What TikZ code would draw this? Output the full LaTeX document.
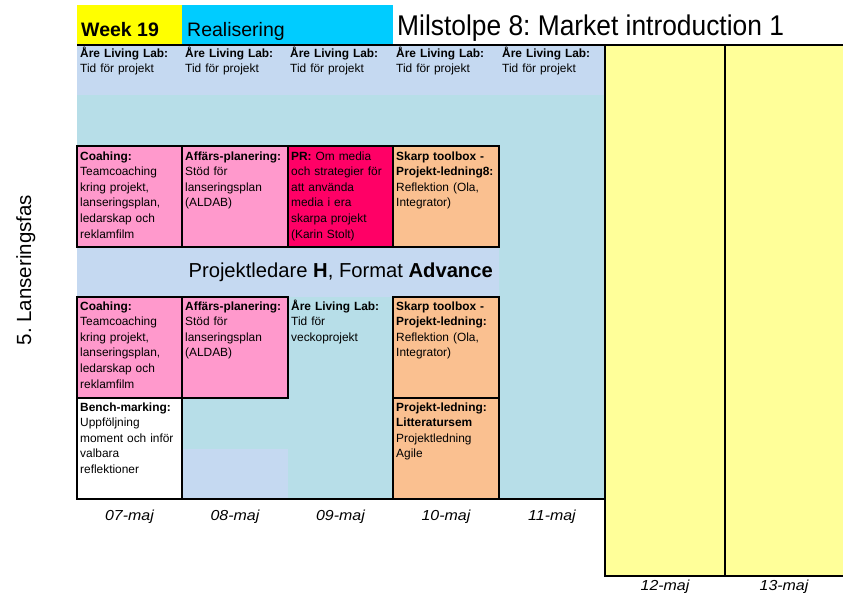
\documentclass[tikz,border=0pt]{standalone}
\usepackage{fontspec}
\setmainfont{Liberation Sans}
\frenchspacing
\definecolor{wkyellow}{HTML}{FFFF00}
\definecolor{wkcyan}{HTML}{00CCFF}
\definecolor{ltblue}{HTML}{C5D9F1}
\definecolor{teal2}{HTML}{B7DEE8}
\definecolor{pinkc}{HTML}{FF99CC}
\definecolor{prc}{HTML}{FF0066}
\definecolor{orangec}{HTML}{FAC090}
\definecolor{ltyellow}{HTML}{FFFF99}
\newcommand{\dlab}[1]{\scalebox{1.1}[1]{#1}}
\begin{document}
\begin{tikzpicture}[x=1pt,y=-1pt,
  area/.style={anchor=north west, inner sep=0pt, outer sep=0pt, draw=none},
  box/.style={anchor=north west, inner sep=0pt, outer sep=0pt, draw=black, line width=2.4pt},
  txt/.style={anchor=base west, inner sep=0pt, text width=102pt, align=left, font=\fontsize{11.9}{15.6}\selectfont},
  datel/.style={anchor=base, inner sep=0pt, font=\fontsize{14.5}{17}\selectfont\itshape},
  rule/.style={line width=2.4pt}]
\useasboundingbox (0,0) rectangle (843,600);
% header
\node[area, fill=wkyellow, minimum width=105pt, minimum height=40pt] (wkbox) at (77,5) {};
\node[area, fill=wkcyan, minimum width=211pt, minimum height=40pt] (rebox) at (182,5) {};
\node[anchor=base west, inner sep=0pt, font=\fontsize{19.5}{22}\selectfont\bfseries] (wk) at (81,36) {Week 19};
\node[anchor=base west, inner sep=0pt, font=\fontsize{19.5}{22}\selectfont] (re) at (187,36) {Realisering};
\node[anchor=base west, inner sep=0pt] (ms) at (397,35) {\scalebox{0.925}[1]{\fontsize{28.5}{30}\selectfont Milstolpe 8: Market introduction 1}};
% backgrounds
\node[area, fill=ltblue, minimum width=528pt, minimum height=50pt] (arerow) at (77,45) {};
\node[area, fill=teal2, minimum width=528pt, minimum height=404pt] (main) at (77,95) {};
\node[area, fill=ltblue, minimum width=422pt, minimum height=50pt] (band) at (77,247) {};
\node[area, fill=ltblue, minimum width=106pt, minimum height=50pt] (patch) at (182,449) {};
% yellow days
\node[box, fill=ltyellow, minimum width=120pt, minimum height=531pt] (day12) at (605,45) {};
\node[box, fill=ltyellow, minimum width=125pt, minimum height=531pt] (day13) at (725,45) {};
% rules
\draw[rule] (77,45) -- (843,45);
\draw[rule] (77,499) -- (605,499);
% Are row
\foreach \x/\n in {80/a1,185/a2,290/a3,396/a4,502/a5}
  \node[txt] (\n) at (\x,57) {\textbf{Åre Living Lab:}\\Tid för projekt};
% row 1
\node[box, fill=pinkc, minimum width=105pt, minimum height=101pt] (r1c1) at (77,146) {};
\node[box, fill=pinkc, minimum width=106pt, minimum height=101pt] (r1c2) at (182,146) {};
\node[box, fill=prc, minimum width=105pt, minimum height=101pt] (r1c3) at (288,146) {};
\node[box, fill=orangec, minimum width=106pt, minimum height=101pt] (r1c4) at (393,146) {};
\node[txt] (t11) at (80,160) {\textbf{Coahing:}\\Teamcoaching\\kring projekt,\\lanseringsplan,\\ledarskap och\\reklamfilm};
\node[txt] (t12) at (185,160) {\textbf{Affärs-planering:}\\Stöd för\\lanseringsplan\\(ALDAB)};
\node[txt] (t13) at (291,160) {\textbf{PR:} Om media\\och strategier för\\att använda\\media i era\\skarpa projekt\\(Karin Stolt)};
\node[txt] (t14) at (396,160) {\textbf{Skarp toolbox -}\\\textbf{Projekt-ledning8:}\\Reflektion (Ola,\\Integrator)};
% band
\node[anchor=base east, inner sep=0pt, font=\fontsize{20.2}{24}\selectfont] (pl) at (493,277) {Projektledare \textbf{H}, Format \textbf{Advance}};
% row 2
\node[box, fill=pinkc, minimum width=105pt, minimum height=101pt] (r2c1) at (77,297) {};
\node[box, fill=pinkc, minimum width=106pt, minimum height=101pt] (r2c2) at (182,297) {};
\node[box, fill=orangec, minimum width=106pt, minimum height=101pt] (r2c4) at (393,297) {};
\node[txt] (t21) at (80,310) {\textbf{Coahing:}\\Teamcoaching\\kring projekt,\\lanseringsplan,\\ledarskap och\\reklamfilm};
\node[txt] (t22) at (185,310) {\textbf{Affärs-planering:}\\Stöd för\\lanseringsplan\\(ALDAB)};
\node[txt] (t23) at (291,310) {\textbf{Åre Living Lab:}\\Tid för\\veckoprojekt};
\node[txt] (t24) at (396,310) {\textbf{Skarp toolbox -}\\\textbf{Projekt-ledning:}\\Reflektion (Ola,\\Integrator)};
% row 3
\node[box, fill=white, minimum width=105pt, minimum height=101pt] (r3c1) at (77,398) {};
\node[box, fill=orangec, minimum width=106pt, minimum height=101pt] (r3c4) at (393,398) {};
\node[txt] (t31) at (80,411) {\textbf{Bench-marking:}\\Uppföljning\\moment och inför\\valbara\\reflektioner};
\node[txt] (t34) at (396,411) {\textbf{Projekt-ledning:}\\\textbf{Litteratursem}\\Projektledning\\Agile};
% dates
\node[datel] (d07) at (129.5,520) {\dlab{07-maj}};
\node[datel] (d08) at (235,520) {\dlab{08-maj}};
\node[datel] (d09) at (340.5,520) {\dlab{09-maj}};
\node[datel] (d10) at (446,520) {\dlab{10-maj}};
\node[datel] (d11) at (552,520) {\dlab{11-maj}};
\node[datel] (d12) at (665,590) {\dlab{12-maj}};
\node[datel] (d13) at (784,590) {\dlab{13-maj}};
% phase label
\node[rotate=90, anchor=base, inner sep=0pt, font=\fontsize{20.5}{23}\selectfont] (phase) at (31,270) {5. Lanseringsfas};
\end{tikzpicture}
\end{document}
